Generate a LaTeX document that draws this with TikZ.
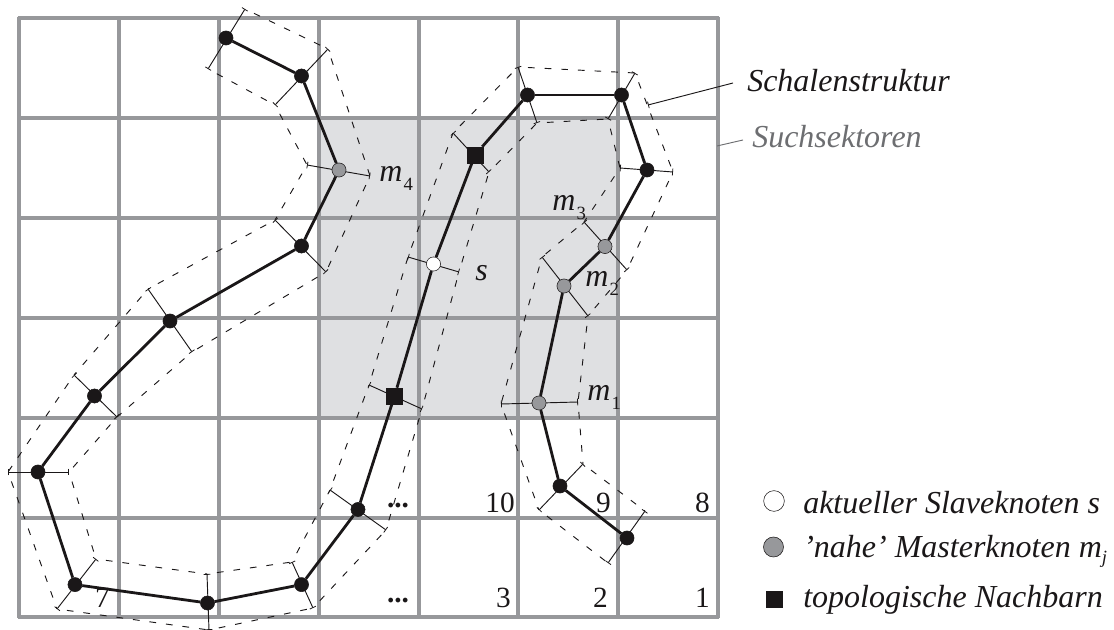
\documentclass[tikz,border=0pt]{standalone}
\usepackage{fontspec}
\setmainfont{Liberation Serif}
\usepackage{xcolor}
\definecolor{gridcolor}{HTML}{97989b}
\definecolor{sectorfill}{HTML}{dfe0e2}
\definecolor{mastercolor}{HTML}{97989b}
\definecolor{sectortext}{HTML}{6d6e71}
\definecolor{dotcolor}{HTML}{1a1718}
\usepackage{tikz}
\usetikzlibrary{positioning,arrows.meta,backgrounds}
\newcommand{\msub}[2]{\textit{#1}\kern1pt\raisebox{-6.5pt}{\fontsize{14}{14}\selectfont #2}}
\tikzset{
    knot/.style={
        circle,
        draw=dotcolor,
        fill=dotcolor,
        inner sep=0pt,
        minimum size=10.6pt,
        line width=0.4pt,
    },
    master/.style={
        knot,
        fill=mastercolor,
    },
    slave/.style={
        knot,
        fill=white,
    },
    neighbour/.style={
        rectangle,
        draw=dotcolor,
        fill=dotcolor,
        inner sep=0pt,
        minimum size=12pt,
        line width=0.4pt,
    },
    cell/.style={
        line width=2.7pt,
        gridcolor,
    },
    chain/.style={
        line width=2.1pt,
        dotcolor,
    },
    whisker/.style={
        {Bar[width=5pt,line width=0.6pt]}-{Bar[width=5pt,line width=0.6pt]},
        line width=0.7pt,
        dotcolor,
    },
    shell/.style={
        line width=0.7pt,
        dash pattern=on 5pt off 7.5pt,
        dash phase=5pt,
        dotcolor,
    },
    leader/.style={
        line width=0.7pt,
        dotcolor,
    },
    cellnum/.style={
        anchor=base east,
        inner sep=0pt,
        font=\fontsize{22}{22}\selectfont,
        text=dotcolor,
    },
    sublabel/.style={
        anchor=base west,
        inner sep=0pt,
        font=\fontsize{24}{24}\selectfont,
        text=dotcolor,
    },
    legend/.style={
        anchor=base west,
        inner sep=0pt,
        font=\fontsize{24}{24}\selectfont\itshape,
        text=dotcolor,
    },
}
\begin{document}
\begin{tikzpicture}[x=0.75pt,y=-0.75pt]
    \useasboundingbox (0,0) rectangle (1114,630);
    % grid
    \begin{pgfonlayer}{background}
        \fill[sectorfill] (319,118) rectangle (618,418);
        \foreach \x in {19,119,219,319,419,518,618,718}
            \draw[cell] (\x,16.6) -- (\x,618.4);
        \foreach \y in {18,118,218,318,418,518,617}
            \draw[cell] (17.6,\y) -- (719.4,\y);
    \end{pgfonlayer}
    % cell numbers
    \node[cellnum] (num7) at (110,608) {7};
    \node[cellnum, anchor=base] (dotsa) at (398,602) {\textbf{...}};
    \node[cellnum, anchor=base] (dotsb) at (398,508) {\textbf{...}};
    \node[cellnum] (num3) at (511,608) {3};
    \node[cellnum] (num2) at (608,608) {2};
    \node[cellnum] (num1) at (710,608) {1};
    \node[cellnum] (num10) at (515,513) {10};
    \node[cellnum] (num9) at (611,513) {9};
    \node[cellnum] (num8) at (710,513) {8};
    % surface knots and both shell points
    \foreach \i/\kind/\x/\y/\ax/\ay/\bx/\by in {
        1/knot/226/38/245/9/208/69,
        2/knot/301.5/76/328/49/275/105,
        3/master/339/170/370/176/307/165,
        4/knot/301.5/246/326/272/275/220,
        5/knot/170/321/192/352/148/289,
        6/knot/94.5/396/117/417/74/375,
        7/knot/38/472/69/472/8/472,
        8/knot/75/584.6/96/559/57/609,
        9/knot/207.5/603/207/574/209/630,
        10/knot/301.5/584.6/292/562/313/608,
        11/knot/358/509.5/330/490/386/530,
        12/neighbour/394.5/396/369/385/422/409,
        13/slave/433.5/264/408/257/459/272,
        14/neighbour/475/155/453/133/489/172,
        15/knot/527.5/95/518/67/537/123,
        16/knot/621.5/95/635/73/608/119,
        17/knot/647/170/673/172/620/168,
        18/master/605/246.5/627/270/584/222,
        19/master/564/286/588/316/542/257,
        20/master/539/403/578/402/501/404,
        21/knot/560/486/583/464/539/510,
        22/knot/627/538/645/511/608/563%
    }{
        \node[\kind] (n\i) at (\x,\y) {};
        \coordinate (a\i) at (\ax,\ay);
        \coordinate (b\i) at (\bx,\by);
    }
    % connections below the knots
    \begin{pgfonlayer}{background}
        \foreach \i in {1,...,22}
            \draw[whisker] (a\i) -- (b\i);
        \foreach \i [evaluate=\i as \j using int(\i+1)] in {1,...,21} {
            \draw[shell] (a\i) -- (a\j);
            \draw[shell] (b\i) -- (b\j);
            \draw[chain] (n\i) -- (n\j);
        }
    \end{pgfonlayer}
    % labels
    \node[sublabel] (m4) at (379,182) {\msub{m}{4}};
    \node[sublabel] (m3) at (552,211) {\msub{m}{3}};
    \node[sublabel] (m2) at (585,287) {\msub{m}{2}};
    \node[sublabel] (m1) at (587,401) {\msub{m}{1}};
    \node[sublabel] (s) at (475,281) {\textit{s}};
    % legend
    \node[legend] (schale) at (747,92) {Schalenstruktur};
    \node[legend, text=sectortext] (sektor) at (752,148) {Suchsektoren};
    \coordinate (schalestart) at (648,105);
    \coordinate (schaleend) at (733,83);
    \coordinate (sektorstart) at (717,146);
    \coordinate (sektorend) at (743,140);
    \draw[leader, {Bar[width=5pt,line width=0.6pt]}-] (schalestart) -- (schaleend);
    \draw[leader, sectortext] (sektorstart) -- (sektorend);
    \node[slave, minimum size=15.5pt] (legslave) at (774,501) {};
    \node[master, minimum size=15pt] (legmaster) at (773.5,547) {};
    \node[neighbour] (legtopo) at (774.5,599) {};
    \node[legend] (txtslave) at (803,514) {aktueller Slaveknoten s};
    \node[legend] (txtmaster) at (803,558) {'nahe' Masterknoten m\raisebox{-4pt}{\fontsize{14}{14}\selectfont j}};
    \node[legend] (txttopo) at (803,608) {topologische Nachbarn};
\end{tikzpicture}
\end{document}
